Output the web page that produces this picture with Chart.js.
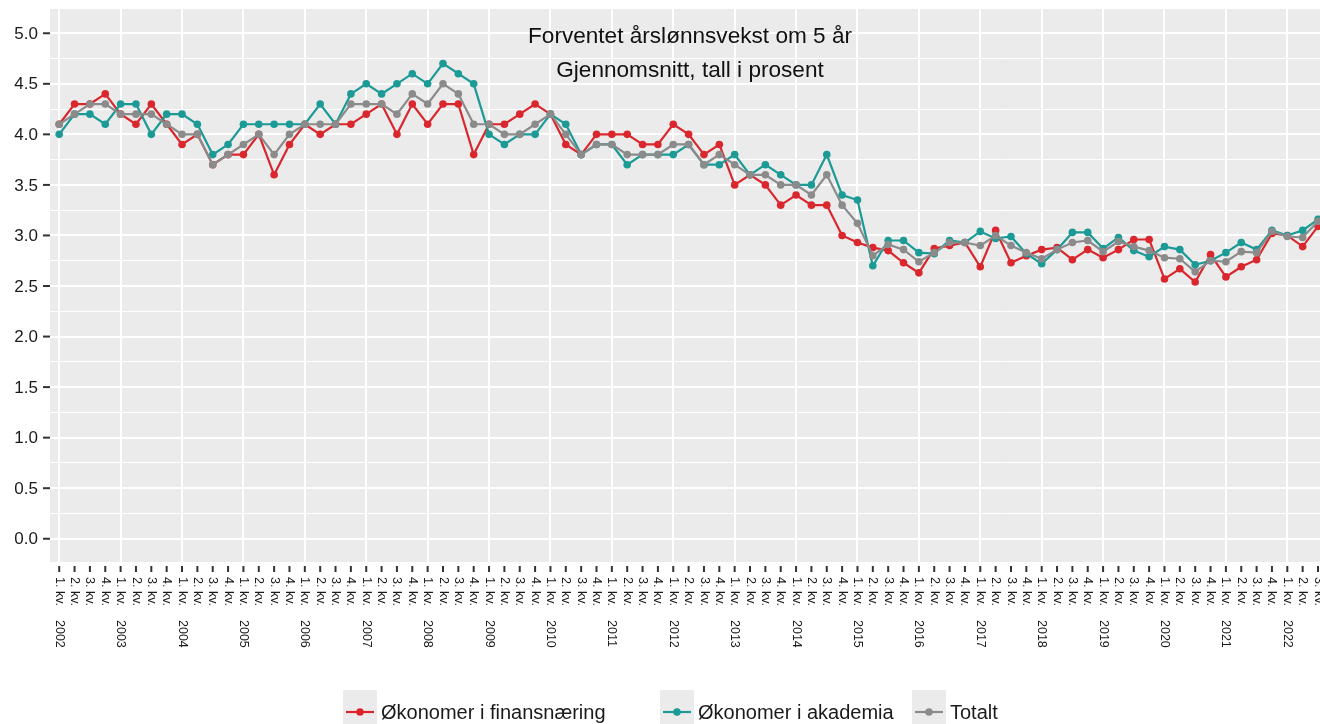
<!DOCTYPE html>
<html>
<head>
<meta charset="utf-8">
<script src="https://cdn.jsdelivr.net/npm/chart.js@4.4.1/dist/chart.umd.min.js"></script>
<style>
    body { margin: 0; background: #fff; width: 1320px; height: 724px; overflow: hidden; position: relative; font-family: "Liberation Sans", Arial, sans-serif; }
    #wrap { position: absolute; left: 0; top: 0; width: 1320px; height: 724px; overflow: hidden; }
    #legend { position: absolute; left: 0; top: 690px; width: 1320px; height: 44px; }
    .item { position: absolute; top: 0; height: 44px; display: flex; align-items: center; font-size: 20px; color: #1a1a1a; white-space: nowrap; }
    .key { width: 34px; height: 44px; background: #ebebeb; margin-right: 4px; }
</style>
</head>
<body>
<div id="wrap"><canvas id="myChart" width="1324" height="724"></canvas></div>
<div id="legend"></div>

<script>
// kvartaler 2002 - 2022 (3. kv.)
let years = [2002, 2003, 2004, 2005, 2006, 2007, 2008, 2009, 2010, 2011, 2012, 2013, 2014, 2015, 2016, 2017, 2018, 2019, 2020, 2021, 2022];
let quarters = ["1. kv.", "2. kv.", "3. kv.", "4. kv."];
let yTicks = [0.0, 0.5, 1.0, 1.5, 2.0, 2.5, 3.0, 3.5, 4.0, 4.5, 5.0];

let finans = [
    4.1, 4.3, 4.3, 4.4, 4.2, 4.1, 4.3, 4.1, 3.9, 4.0, 3.7, 3.8, 3.8, 4.0, 3.6, 3.9,
    4.1, 4.0, 4.1, 4.1, 4.2, 4.3, 4.0, 4.3, 4.1, 4.3, 4.3, 3.8, 4.1, 4.1, 4.2, 4.3,
    4.2, 3.9, 3.8, 4.0, 4.0, 4.0, 3.9, 3.9, 4.1, 4.0, 3.8, 3.9, 3.5, 3.6, 3.5, 3.3,
    3.4, 3.3, 3.3, 3.0, 2.93, 2.88, 2.85, 2.73, 2.63, 2.87, 2.9, 2.93, 2.69, 3.05, 2.73, 2.8,
    2.86, 2.88, 2.76, 2.86, 2.78, 2.86, 2.96, 2.96, 2.57, 2.67, 2.54, 2.81, 2.59, 2.69, 2.76, 3.02,
    3.0, 2.89, 3.09
];
let akademia = [
    4.0, 4.2, 4.2, 4.1, 4.3, 4.3, 4.0, 4.2, 4.2, 4.1, 3.8, 3.9, 4.1, 4.1, 4.1, 4.1,
    4.1, 4.3, 4.1, 4.4, 4.5, 4.4, 4.5, 4.6, 4.5, 4.7, 4.6, 4.5, 4.0, 3.9, 4.0, 4.0,
    4.2, 4.1, 3.8, 3.9, 3.9, 3.7, 3.8, 3.8, 3.8, 3.9, 3.7, 3.7, 3.8, 3.6, 3.7, 3.6,
    3.5, 3.5, 3.8, 3.4, 3.35, 2.7, 2.95, 2.95, 2.83, 2.82, 2.95, 2.93, 3.04, 2.97, 2.99, 2.82,
    2.72, 2.86, 3.03, 3.03, 2.87, 2.98, 2.85, 2.79, 2.89, 2.86, 2.71, 2.75, 2.83, 2.93, 2.86, 3.05,
    3.0, 3.05, 3.16
];
let totalt = [
    4.1, 4.2, 4.3, 4.3, 4.2, 4.2, 4.2, 4.1, 4.0, 4.0, 3.7, 3.8, 3.9, 4.0, 3.8, 4.0,
    4.1, 4.1, 4.1, 4.3, 4.3, 4.3, 4.2, 4.4, 4.3, 4.5, 4.4, 4.1, 4.1, 4.0, 4.0, 4.1,
    4.2, 4.0, 3.8, 3.9, 3.9, 3.8, 3.8, 3.8, 3.9, 3.9, 3.7, 3.8, 3.7, 3.6, 3.6, 3.5,
    3.5, 3.4, 3.6, 3.3, 3.12, 2.8, 2.91, 2.86, 2.74, 2.83, 2.93, 2.93, 2.9, 3.0, 2.9, 2.83,
    2.77, 2.86, 2.93, 2.95, 2.84, 2.94, 2.89, 2.85, 2.78, 2.77, 2.64, 2.75, 2.74, 2.84, 2.83, 3.04,
    2.99, 2.98, 3.14
];

let seriesNames = ["Økonomer i finansnæring", "Økonomer i akademia", "Totalt"];
let colors = ["#d9272d", "#1b9a96", "#8b8b8b"];

function toPoints(values) {
    return values.map((v, i) => ({ x: i, y: v }));
}

// akser, tittel og bakgrunn tegnes selv (ggplot-stil)
const ggPlugin = {
    id: "ggStyle",
    beforeDraw(chart) {
        let { ctx, chartArea } = chart;
        ctx.save();
        ctx.fillStyle = "#ebebeb";
        ctx.fillRect(chartArea.left, chartArea.top, chartArea.right - chartArea.left, chartArea.bottom - chartArea.top);
        ctx.restore();
    },
    afterDraw(chart) {
        let { ctx, chartArea } = chart;
        let xScale = chart.scales.x;
        let yScale = chart.scales.y;
        ctx.save();
        ctx.fillStyle = "#1a1a1a";
        ctx.strokeStyle = "#333";
        ctx.lineWidth = 2;

        // y-akse
        ctx.font = "17px 'Liberation Sans', Arial, sans-serif";
        ctx.textAlign = "right";
        ctx.textBaseline = "middle";
        yTicks.forEach(v => {
            let py = yScale.getPixelForValue(v);
            ctx.fillText(v.toFixed(1), 38, py + 1);
            ctx.beginPath();
            ctx.moveTo(43, py);
            ctx.lineTo(chartArea.left, py);
            ctx.stroke();
        });

        // x-akse, tekst rotert med klokka
        ctx.font = "12.5px 'Liberation Sans', Arial, sans-serif";
        ctx.textAlign = "left";
        for (let i = 0; i < finans.length; i++) {
            let px = xScale.getPixelForValue(i);
            ctx.beginPath();
            ctx.moveTo(px, chartArea.bottom + 4);
            ctx.lineTo(px, chartArea.bottom + 10);
            ctx.stroke();

            ctx.save();
            ctx.translate(px, chartArea.bottom + 15);
            ctx.rotate(Math.PI / 2);
            ctx.fillText(quarters[i % 4], 0, 0);
            if (i % 4 === 0) {
                ctx.fillText(String(years[i / 4]), 43, 0);
            }
            ctx.restore();
        }

        // tittel inne i panelet
        ctx.fillStyle = "#111";
        ctx.textAlign = "center";
        ctx.font = "22.6px 'Liberation Sans', Arial, sans-serif";
        ctx.fillText("Forventet årslønnsvekst om 5 år", 690, 37);
        ctx.fillText("Gjennomsnitt, tall i prosent", 690, 71);
        ctx.restore();
    }
};

let ctx = document.getElementById("myChart").getContext("2d");
let myChart = new Chart(ctx, {
    type: "line",
    data: {
        datasets: [
            { label: seriesNames[0], data: toPoints(finans), order: 3 },
            { label: seriesNames[1], data: toPoints(akademia), order: 2 },
            { label: seriesNames[2], data: toPoints(totalt), order: 1 },
        ].map((d, k) => Object.assign(d, {
            borderColor: colors[k],
            backgroundColor: colors[k],
            borderWidth: 2.2,
            pointRadius: 3.8,
            pointBorderWidth: 0,
            tension: 0,
        })),
    },
    options: {
        responsive: false,
        animation: false,
        layout: { padding: { left: 50, top: 9, right: 0, bottom: 162 } },
        scales: {
            x: {
                type: "linear",
                min: -0.6,
                max: 82.13,
                ticks: { display: false, stepSize: 4, includeBounds: false },
                grid: { color: "#ffffff", lineWidth: 2, drawTicks: false },
                border: { display: false },
            },
            y: {
                min: -0.23,
                max: 5.24,
                ticks: { display: false, stepSize: 0.25, includeBounds: false },
                grid: {
                    color: "#ffffff",
                    drawTicks: false,
                    lineWidth: c => (Math.round(c.tick.value * 100) % 50 === 0 ? 2 : 1),
                },
                border: { display: false },
            },
        },
        plugins: {
            legend: { display: false },
            tooltip: { enabled: false },
        },
    },
    plugins: [ggPlugin],
});

// legende under
let legendPos = [343, 660, 912];
let legend = document.getElementById("legend");
seriesNames.forEach((name, k) => {
    let item = document.createElement("div");
    item.className = "item";
    item.style.left = legendPos[k] + "px";
    item.innerHTML = `<div class="key"><svg width="34" height="44"><line x1="3" y1="22" x2="31" y2="22" stroke="${colors[k]}" stroke-width="2.2"/><circle cx="17" cy="22" r="3.8" fill="${colors[k]}"/></svg></div><span>${name}</span>`;
    legend.appendChild(item);
});
</script>
</body>
</html>
